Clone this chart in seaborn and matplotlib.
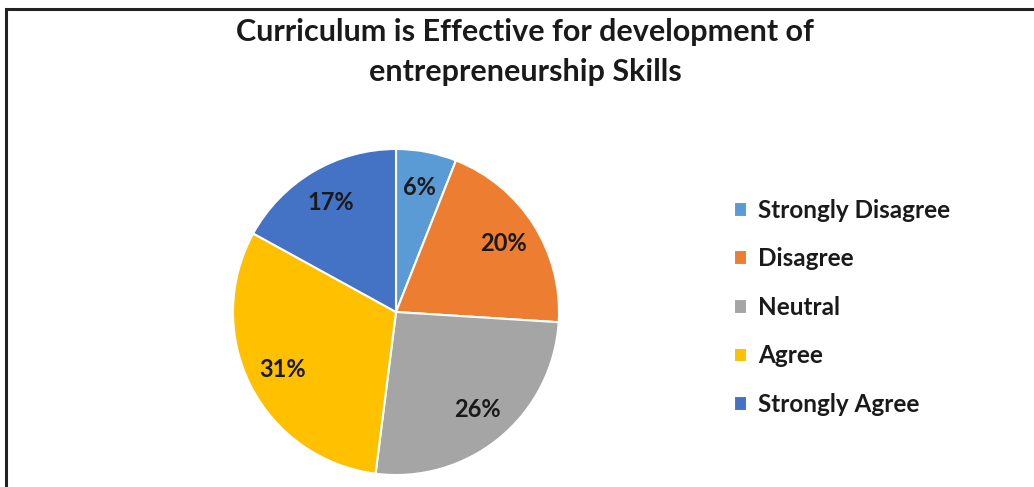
import matplotlib
matplotlib.use("Agg")
import matplotlib.pyplot as plt
import seaborn as sns
from matplotlib.patches import Rectangle

# Survey responses (percent)
categories = ["Strongly Disagree", "Disagree", "Neutral", "Agree", "Strongly Agree"]
shares = [6, 20, 26, 31, 17]
colors = ["#5B9BD5", "#ED7D31", "#A5A5A5", "#FFC000", "#4472C4"]

sns.set_theme(style="white")
plt.rcParams["font.family"] = ["Lato", "DejaVu Sans"]

fig = plt.figure(figsize=(10.34, 4.87), dpi=100)

# frame around the chart (cut at right and bottom like the screenshot)
fig.patches.append(Rectangle((6 / 1034, -0.1), 1.2, (487 - 9) / 487 + 0.1,
                             transform=fig.transFigure, fill=False,
                             edgecolor="#222222", linewidth=2.2))

ax = fig.add_axes([(396 - 163) / 1034, (487 - 475) / 487, 326 / 1034, 326 / 487])
wedges, texts, autotexts = ax.pie(
    shares, colors=colors, startangle=90, counterclock=False,
    autopct="%1.0f%%", pctdistance=0.78,
    wedgeprops=dict(edgecolor="white", linewidth=1.5),
    textprops=dict(fontsize=17, fontweight="bold", color="#1a1a1a"))
ax.set_xlim(-1, 1)
ax.set_ylim(-1, 1)
ax.set_aspect("equal")

fig.text(525 / 1034, 1 - 32 / 487, "Curriculum is Effective for development of",
         ha="center", va="center", fontsize=22, fontweight="bold", color="#1a1a1a")
fig.text(525 / 1034, 1 - 72 / 487, "entrepreneurship Skills",
         ha="center", va="center", fontsize=22, fontweight="bold", color="#1a1a1a")

leg = fig.legend(wedges, categories, loc="upper left",
                 bbox_to_anchor=(712 / 1034, 1 - 177 / 487),
                 frameon=False, fontsize=17.5, handlelength=0.55, handleheight=0.55,
                 handletextpad=0.45, labelspacing=1.05)
for t in leg.get_texts():
    t.set_fontweight("bold")
    t.set_color("#1a1a1a")

fig.savefig("out.png", dpi=100)
